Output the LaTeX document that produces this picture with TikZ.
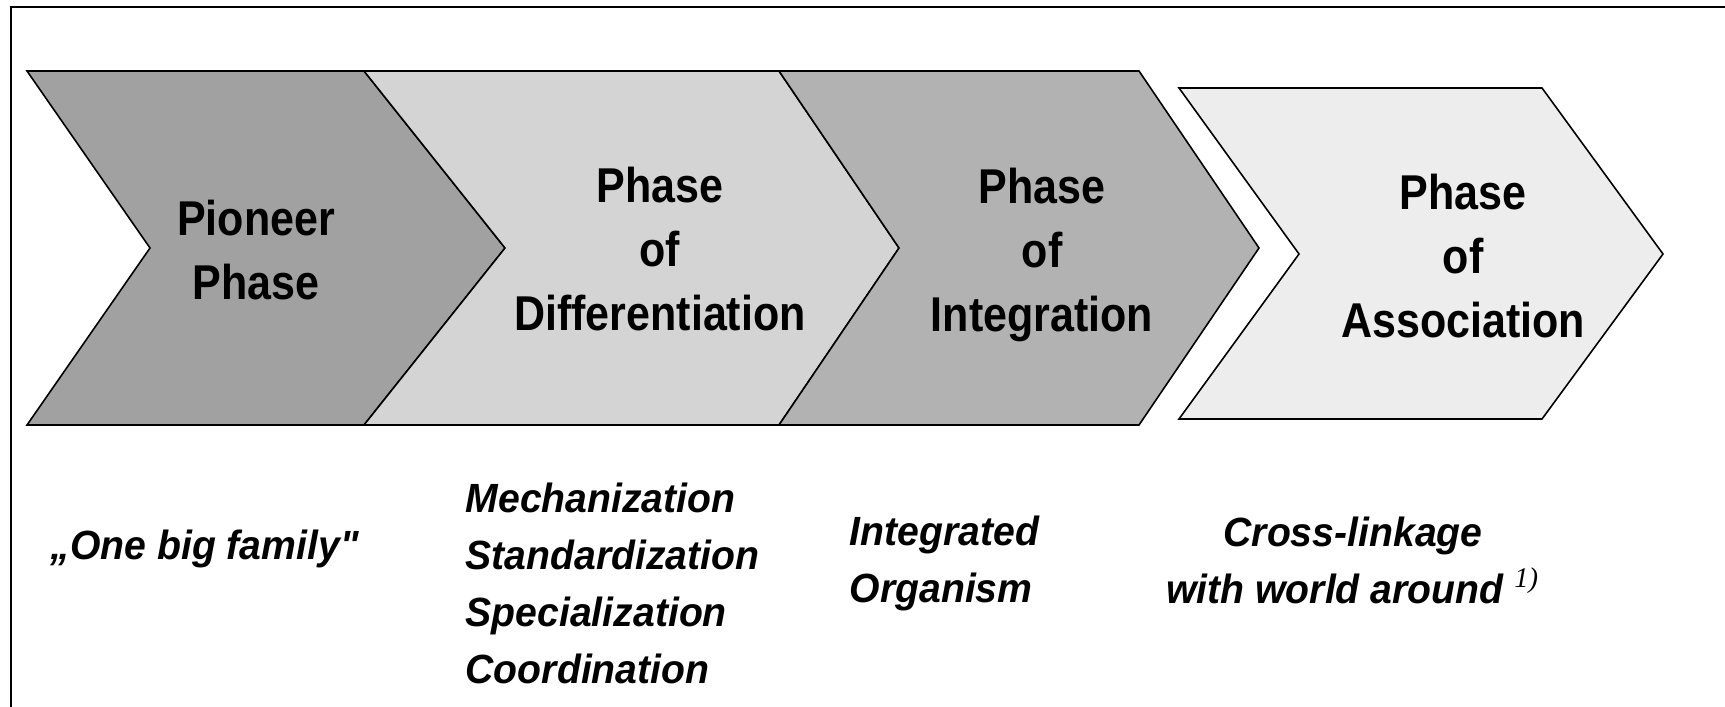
\documentclass[tikz,border=0pt]{standalone}
\usepackage{fontspec}
\setmainfont{Liberation Sans}
\newfontfamily\headfont{Liberation Sans}[FakeStretch=0.88]
\newfontfamily\notefont{Liberation Sans}[FakeStretch=0.96]
\newfontfamily\supfont{Liberation Serif}
\usepackage{tikz}
\usetikzlibrary{positioning}
\tikzstyle{chevron} = [draw=black, line width=0.45pt, line join=miter]
\tikzstyle{phase} = [align=center, inner sep=0pt, font=\headfont\bfseries\fontsize{13.9}{18.2}\selectfont]
\tikzstyle{note} = [align=left, anchor=west, inner sep=0pt, font=\notefont\bfseries\itshape\fontsize{11.6}{16.2}\selectfont]
\tikzstyle{frame} = [line width=0.6pt]
\def\ymid{248}

\begin{document}
\begin{tikzpicture}[x=0.01cm, y=-0.01cm]
\useasboundingbox (0,0) rectangle (1725,707);
\draw [frame] (11,707) -- (11,7) -- (1725,7);

\draw [chevron, fill=black!37] (27,71) -- (364,71) -- (505,\ymid) -- (364,425) -- (27,425) -- (150,\ymid) -- cycle;
\draw [chevron, fill=black!17] (364,71) -- (779,71) -- (899,\ymid) -- (779,425) -- (364,425) -- (505,\ymid) -- cycle;
\draw [chevron, fill=black!30] (779,71) -- (1139,71) -- (1259,\ymid) -- (1139,425) -- (779,425) -- (899,\ymid) -- cycle;
\draw [chevron, fill=black!7] (1179,88) -- (1542,88) -- (1663,254) -- (1542,419) -- (1179,419) -- (1299,254) -- cycle;

\node (pioneer) [phase] at (256,250) {Pioneer\\Phase};
\node (differ) [phase] at (660,249) {Phase\\of\\Differentiation};
\node (integr) [phase] at (1042,255) {Phase\\of\\Integration};
\node (assoc) [phase] at (1463,256) {Phase\\of\\Association};

\node (family) [note] at (50,549) {„One big family"};
\node (mech) [note] at (465,583) {Mechanization\\Standardization\\Specialization\\Coordination};
\node (organism) [note] at (849,563) {Integrated\\Organism};
\node (cross) [note, align=center, anchor=center] at (1353,560) {Cross-linkage\\with world around \textsuperscript{\supfont\mdseries\itshape 1)}};

\end{tikzpicture}
\end{document}
